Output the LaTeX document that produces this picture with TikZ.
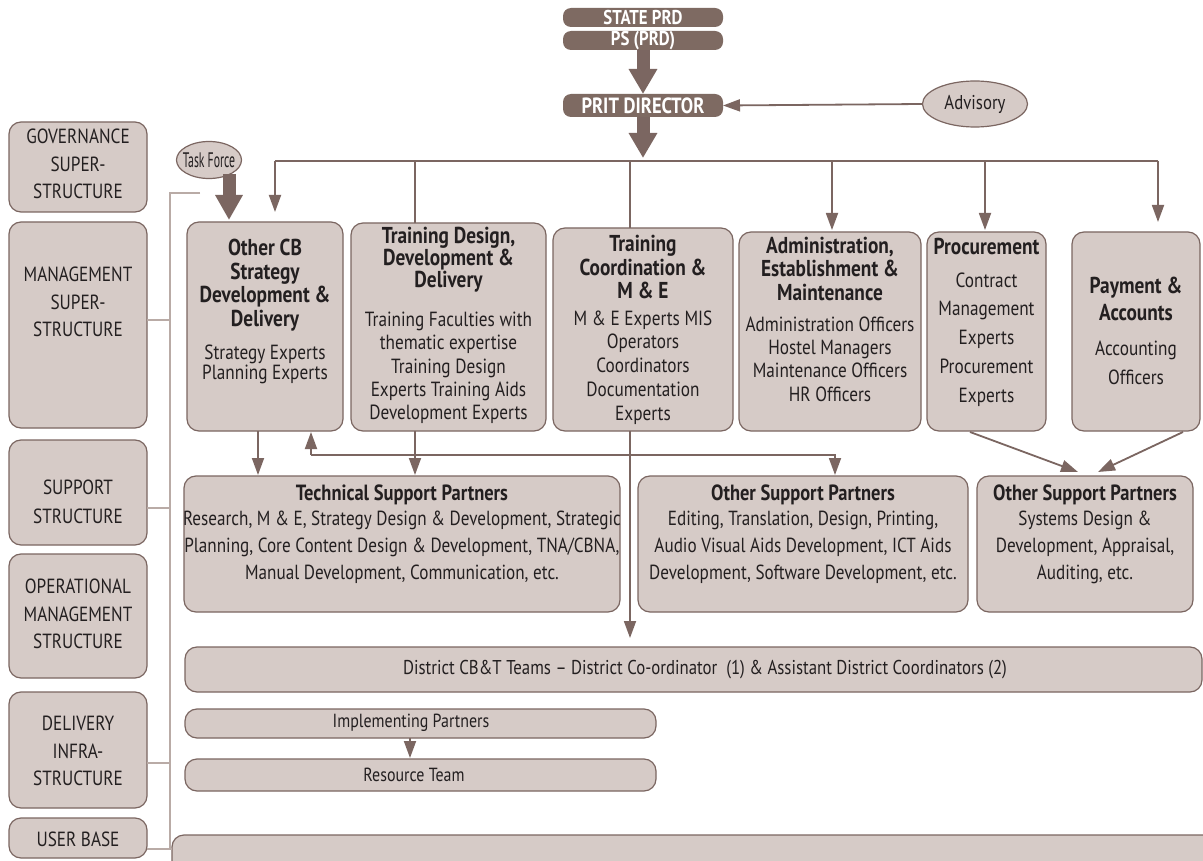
\documentclass[tikz,border=0pt]{standalone}
\usepackage{fontspec}
\setmainfont{PT Sans}[FakeStretch=0.84]
\newfontfamily\tfnarrow{PT Sans}[FakeStretch=0.56]
\usetikzlibrary{arrows.meta,shapes.geometric}
\definecolor{boxfill}{HTML}{D6CBC7}
\definecolor{boxdraw}{HTML}{7B6661}
\definecolor{pill}{HTML}{7E6A62}
\definecolor{linec}{HTML}{7B6661}
\definecolor{leftline}{HTML}{B9ABA6}
\definecolor{txt}{HTML}{231F20}
\tikzset{
 box/.style={draw=boxdraw, fill=boxfill, line width=1.2pt, rounded corners=12pt, inner sep=0pt, outer sep=0pt, anchor=north west},
 pillbox/.style={fill=pill, rounded corners=8pt, inner sep=0pt, outer sep=0pt, anchor=north west, text=white, font=\bfseries\fontsize{20}{20}\selectfont},
 ttl/.style={align=center, inner sep=0pt, text=txt, font=\bfseries\fontsize{23}{23.5}\selectfont},
 reg/.style={align=center, inner sep=0pt, text=txt, font=\fontsize{20.5}{23.3}\selectfont},
 lefttxt/.style={align=center, inner sep=0pt, text=txt, font=\fontsize{20.5}{27.5}\selectfont},
 conn/.style={draw=linec, line width=1.8pt},
 arr/.style={conn, -{Triangle[width=12pt,length=17pt]}},
 fat/.style={draw=linec, line width=13pt, -{Triangle[width=27pt,length=25pt]}},
 lconn/.style={draw=leftline, line width=1.8pt},
 oval/.style={ellipse, draw=boxdraw, fill=boxfill, line width=1.2pt, inner sep=0pt, text=txt, font=\fontsize{20}{22}\selectfont},
}
\begin{document}
\begin{tikzpicture}[x=1pt,y=-1pt]
\clip (0,0) rectangle (1203,861);
\fill[white] (0,0) rectangle (1203,861);

% left column
\node[box, minimum width=138pt, minimum height=90pt] (gov) at (9,122) {};
\node[lefttxt] (gov-t) at (78,164) {GOVERNANCE\\SUPER-\\STRUCTURE};
\node[box, minimum width=138pt, minimum height=206pt] (mgmt) at (9,222) {};
\node[lefttxt] (mgmt-t) at (78,302) {MANAGEMENT\\SUPER-\\STRUCTURE};
\node[box, minimum width=138pt, minimum height=105pt] (sup) at (9,440) {};
\node[lefttxt, font=\fontsize{20.5}{29}\selectfont] (sup-t) at (78,501.5) {SUPPORT\\STRUCTURE};
\node[box, minimum width=138pt, minimum height=124pt] (ops) at (9,554) {};
\node[lefttxt] (ops-t) at (78,614) {OPERATIONAL\\MANAGEMENT\\STRUCTURE};
\node[box, minimum width=138pt, minimum height=116pt] (deliv) at (9,692) {};
\node[lefttxt] (deliv-t) at (78,751) {DELIVERY\\INFRA-\\STRUCTURE};
\node[box, minimum width=138pt, minimum height=40pt] (user) at (9,818) {};
\node[lefttxt] (user-t) at (78,839) {USER BASE};

% left connector
\coordinate (lt) at (200,193);
\coordinate (lc) at (170,193);
\coordinate (lb) at (170,849);
\draw[lconn] (lt) -- (lc) -- (lb);
\coordinate (lm) at (170,320);
\coordinate (ls) at (170,508);
\coordinate (ld) at (170,763);
\draw[lconn] (147,320) -- (lm);
\draw[lconn] (147,508) -- (ls);
\draw[lconn] (147,763) -- (ld);

% top
\node[pillbox, minimum width=160pt, minimum height=19pt] (state) at (563,8) {STATE PRD};
\node[pillbox, minimum width=160pt, minimum height=19pt] (ps) at (563,31) {PS (PRD)};
\node[pillbox, minimum width=160pt, minimum height=23pt, font=\bfseries\fontsize{22}{22}\selectfont] (prit) at (563,94) {PRIT DIRECTOR};
\node[oval, minimum width=105pt, minimum height=46pt] (adv) at (975,104) {Advisory};
\node[oval, minimum width=65pt, minimum height=37pt] (tf) at (209,160) {};
\node[inner sep=0pt, text=txt, font=\tfnarrow\fontsize{21}{22}\selectfont] (tf-t) at (209,160) {Task Force};

\draw[fat] (ps.south) -- (prit.north);
\coordinate (pritbus) at (643,158);
\draw[fat] (prit.south) -- (pritbus);
\draw[arr] (adv.west) -- (prit.east);

% row 1 boxes
\node[box, minimum width=156pt, minimum height=209pt] (ocb) at (187,222) {};
\node[ttl, font=\bfseries\fontsize{23}{23.5}\selectfont] (ocb-t) at (265,285) {Other CB\\Strategy\\Development \&\\Delivery};
\node[reg, font=\fontsize{20.5}{20.5}\selectfont] (ocb-b) at (265,364.5) {Strategy Experts\\Planning Experts};

\node[box, minimum width=195pt, minimum height=208pt] (tdd) at (351,223) {};
\node[ttl, font=\bfseries\fontsize{23}{22}\selectfont] (tdd-t) at (448.5,260) {Training Design,\\Development \&\\Delivery};
\node[reg] (tdd-b) at (448.5,368) {Training Faculties with\\thematic expertise\\Training Design\\Experts Training Aids\\Development Experts};

\node[box, minimum width=180pt, minimum height=203pt] (tcm) at (553,228) {};
\node[ttl] (tcm-t) at (643,267) {Training\\Coordination \&\\M \& E};
\node[reg, font=\fontsize{20.5}{23.75}\selectfont] (tcm-b) at (643,367.5) {M \& E Experts MIS\\Operators\\Coordinators\\Documentation\\Experts};

\node[box, minimum width=182pt, minimum height=199pt] (aem) at (739,232) {};
\node[ttl] (aem-t) at (830,268.5) {Administration,\\Establishment \&\\Maintenance};
\node[reg] (aem-b) at (830,359) {Administration Officers\\Hostel Managers\\Maintenance Officers\\HR Officers};

\node[box, minimum width=119pt, minimum height=199pt] (proc) at (927,232) {};
\node[ttl] (proc-t) at (986.5,246) {Procurement};
\node[reg, font=\fontsize{20.5}{28.75}\selectfont] (proc-b) at (986.5,339.5) {Contract\\Management\\Experts\\Procurement\\Experts};

\node[box, minimum width=128pt, minimum height=199pt] (pay) at (1072,232) {};
\node[ttl, font=\bfseries\fontsize{23}{27}\selectfont] (pay-t) at (1136,298.5) {Payment \&\\Accounts};
\node[reg, font=\fontsize{20.5}{29}\selectfont] (pay-b) at (1136,362.5) {Accounting\\Officers};

% bus
\coordinate (b1) at (275,161);
\coordinate (b2) at (415,161);
\coordinate (b3) at (630,161);
\coordinate (b4) at (832,161);
\coordinate (b5) at (985,161);
\coordinate (b6) at (1158,161);
\draw[conn] (b1) -- (b6);
\coordinate (e1) at (275,212);
\coordinate (e2) at (415,223);
\coordinate (e3) at (630,228);
\coordinate (e4) at (832,230);
\coordinate (e5) at (985,230);
\coordinate (e6) at (1158,222);
\draw[arr] (b1) -- (e1);
\draw[conn] (b2) -- (e2);
\draw[conn] (b3) -- (e3);
\draw[arr] (b4) -- (e4);
\draw[arr] (b5) -- (e5);
\draw[arr] (b6) -- (e6);

\coordinate (tfs) at (229,174);
\coordinate (tfe) at (229,220);
\draw[fat, -{Triangle[width=26pt,length=25pt]}] (tfs) -- (tfe);

% row 2 boxes
\node[box, minimum width=436pt, minimum height=136pt] (tsp) at (184,476) {};
\node[ttl, font=\bfseries\fontsize{22}{24}\selectfont] (tsp-t) at (402,495) {Technical Support Partners};
\node[reg, font=\fontsize{20.4}{27}\selectfont] (tsp-b) at (402,547) {Research, M \& E, Strategy Design \& Development, Strategic\\Planning, Core Content Design \& Development, TNA/CBNA,\\Manual Development, Communication, etc.};

\node[box, minimum width=330pt, minimum height=136pt] (osp1) at (638,476) {};
\node[ttl, font=\bfseries\fontsize{22}{24}\selectfont] (osp1-t) at (803,495) {Other Support Partners};
\node[reg, font=\fontsize{20.4}{27}\selectfont] (osp1-b) at (803,547) {Editing, Translation, Design, Printing,\\Audio Visual Aids Development, ICT Aids\\Development, Software Development, etc.};

\node[box, minimum width=216pt, minimum height=136pt] (osp2) at (977,476) {};
\node[ttl, font=\bfseries\fontsize{22}{24}\selectfont] (osp2-t) at (1085,495) {Other Support Partners};
\node[reg, font=\fontsize{20.4}{27}\selectfont] (osp2-b) at (1085,547) {Systems Design \&\\Development, Appraisal,\\Auditing, etc.};

% row 1 -> row 2
\coordinate (c1s) at (258,431);
\coordinate (c1e) at (258,475);
\coordinate (c2s) at (415,431);
\coordinate (c2e) at (415,475);
\draw[arr] (c1s) -- (c1e);
\draw[arr] (c2s) -- (c2e);
\coordinate (h1) at (311,455);
\coordinate (h1t) at (311,432);
\coordinate (h2) at (835,455);
\coordinate (h2e) at (835,475);
\draw[arr] (h1) -- (h1t);
\draw[arr] (h1) -- (h2) -- (h2e);
\coordinate (p1) at (970,432);
\coordinate (p1e) at (1078,472);
\coordinate (p2) at (1183,432);
\coordinate (p2e) at (1098,472);
\draw[arr] (p1) -- (p1e);
\draw[arr] (p2) -- (p2e);

% row 3
\node[box, minimum width=1017pt, minimum height=45pt] (dist) at (185,647) {};
\node[reg, font=\fontsize{20}{22}\selectfont] (dist-t) at (705,670) {District CB\&T Teams -- District Co-ordinator~ (1) \& Assistant District Coordinators (2)};
\coordinate (tcs) at (630,431);
\coordinate (tce) at (630,638);
\draw[arr] (tcs) -- (tce);

\node[box, minimum width=471pt, minimum height=29pt] (impl) at (185,709) {};
\node[reg, font=\fontsize{19}{21}\selectfont] (impl-t) at (411,723) {Implementing Partners};
\node[box, minimum width=471pt, minimum height=32pt] (res) at (185,759) {};
\node[reg, font=\fontsize{19}{21}\selectfont] (res-t) at (414,775) {Resource Team};
\coordinate (ir1) at (410,738);
\coordinate (ir2) at (410,758);
\draw[arr] (ir1) -- (ir2);

\node[box, minimum width=1050pt, minimum height=60pt] (base) at (172,835) {};
\draw[lconn] (147,849) -- (lb) -- (base.west |- lb);
\end{tikzpicture}
\end{document}
